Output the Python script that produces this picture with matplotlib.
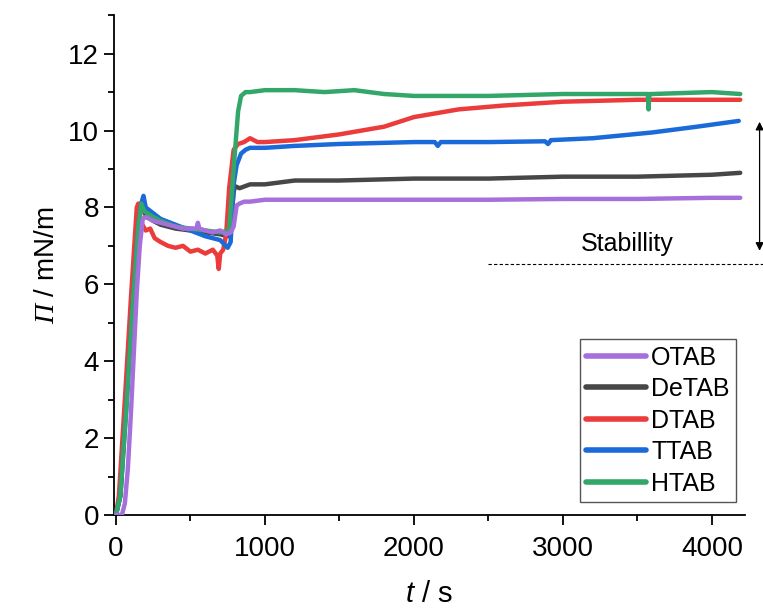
import numpy as np
import matplotlib
matplotlib.use('Agg')
import matplotlib.pyplot as plt
from matplotlib.ticker import MultipleLocator

plt.rcParams['font.family'] = 'Liberation Sans'
plt.rcParams['mathtext.fontset'] = 'custom'
plt.rcParams['mathtext.it'] = 'Liberation Sans:italic'
plt.rcParams['mathtext.sf'] = 'Liberation Serif:italic'

# surface pressure vs time
labels = ["OTAB", "DeTAB", "DTAB", "TTAB", "HTAB"]
colors = ["#a56fdc", "#474747", "#eb3b3b", "#1b6ad9", "#33a66a"]

t_otab = [0, 40, 60, 80, 100, 120, 140, 160, 180, 200, 250, 300, 350, 400, 450, 500, 540, 550, 560, 600,
          650, 700, 740, 770, 790, 810, 830, 860, 900, 1000, 1200, 1500, 2000, 2500, 3000, 3500, 4000, 4190]
y_otab = [0, 0, 0.3, 1.2, 2.6, 4.2, 5.8, 7.0, 7.7, 7.75, 7.65, 7.6, 7.55, 7.5, 7.45, 7.45, 7.45, 7.6, 7.45, 7.4,
          7.35, 7.4, 7.3, 7.35, 7.5, 8.05, 8.1, 8.15, 8.15, 8.2, 8.2, 8.2, 8.2, 8.2, 8.22, 8.22, 8.25, 8.25]

t_detab = [0, 30, 60, 100, 140, 165, 180, 200, 250, 300, 400, 500, 600, 700, 750, 770, 790, 800, 830,
           900, 1000, 1200, 1500, 2000, 2500, 3000, 3500, 4000, 4190]
y_detab = [0, 0.5, 2.5, 5.2, 7.5, 8.1, 7.95, 7.8, 7.65, 7.55, 7.45, 7.4, 7.35, 7.3, 7.25, 7.4, 8.4, 8.55, 8.5,
           8.6, 8.6, 8.7, 8.7, 8.75, 8.75, 8.8, 8.8, 8.85, 8.9]

t_dtab = [0, 20, 60, 100, 140, 150, 170, 200, 230, 260, 300, 350, 400, 450, 500, 550, 600, 650, 680, 690,
          700, 720, 740, 760, 790, 820, 860, 900, 950, 1000, 1200, 1500, 1800, 2000, 2300, 2600, 3000, 3500, 4000, 4190]
y_dtab = [0, 0.5, 3.0, 5.6, 8.0, 8.1, 7.6, 7.4, 7.45, 7.2, 7.1, 7.0, 6.95, 7.0, 6.85, 6.9, 6.8, 6.9, 6.75, 6.4,
          6.8, 6.9, 7.3, 8.5, 9.5, 9.65, 9.7, 9.8, 9.7, 9.7, 9.75, 9.9, 10.1, 10.35, 10.55, 10.65, 10.75, 10.8, 10.8, 10.8]

t_ttab = [0, 30, 70, 110, 150, 170, 185, 200, 250, 300, 400, 500, 600, 700, 750, 770, 790, 810, 840, 870,
          900, 1000, 1200, 1500, 2000, 2140, 2160, 2180, 2500, 2880, 2900, 2920, 3200, 3600, 3900, 4180]
y_ttab = [0, 0.5, 2.8, 5.3, 7.5, 8.1, 8.3, 8.0, 7.85, 7.7, 7.55, 7.4, 7.25, 7.15, 6.95, 7.1, 8.6, 9.1, 9.4, 9.5,
          9.55, 9.55, 9.6, 9.65, 9.7, 9.7, 9.6, 9.7, 9.7, 9.72, 9.65, 9.75, 9.8, 9.95, 10.1, 10.25]

t_htab = [0, 30, 70, 110, 150, 170, 190, 250, 300, 400, 500, 600, 700, 760, 780, 800, 820, 840, 870, 900,
          1000, 1200, 1400, 1600, 1800, 2000, 2500, 3000, 3500, 3570, 3575, 3580, 3600, 4000, 4190]
y_htab = [0, 0.5, 2.8, 5.3, 7.5, 8.1, 7.9, 7.75, 7.65, 7.5, 7.45, 7.4, 7.35, 7.4, 8.5, 9.5, 10.5, 10.9, 11.0, 11.0,
          11.05, 11.05, 11.0, 11.05, 10.95, 10.9, 10.9, 10.95, 10.95, 10.95, 10.55, 10.95, 10.95, 11.0, 10.95]

series = [(t_otab, y_otab), (t_detab, y_detab), (t_dtab, y_dtab), (t_ttab, y_ttab), (t_htab, y_htab)]
zorders = [6, 2, 3, 4, 5]

fig = plt.figure(figsize=(7.63, 6.08), dpi=100)
ax = fig.add_axes([0.149, 0.153, 0.827, 0.822])

handles = []
for (t, y), lab, c, z in zip(series, labels, colors, zorders):
    h, = ax.plot(t, y, color=c, lw=3.2, label=lab, zorder=z, solid_capstyle='round')
    handles.append(h)

ax.set_xlim(-15, 4220)
ax.set_ylim(0, 13)
ax.xaxis.set_major_locator(MultipleLocator(1000))
ax.xaxis.set_minor_locator(MultipleLocator(500))
ax.yaxis.set_major_locator(MultipleLocator(2))
ax.yaxis.set_minor_locator(MultipleLocator(1))
for s in ['top', 'right']:
    ax.spines[s].set_visible(False)
for s in ['left', 'bottom']:
    ax.spines[s].set_linewidth(1.3)
ax.tick_params(which='major', direction='out', length=7, width=1.3, labelsize=20)
ax.tick_params(which='minor', direction='out', length=4, width=1.3)
ax.tick_params(axis='x', which='major', pad=8)

ax.set_xlabel(r'$t$ / s', fontsize=21, labelpad=13)
ax.set_ylabel(r'$\mathsf{\Pi}$ / mN/m', fontsize=20, labelpad=6)

# stability marker
ax.plot([2500, 4350], [6.54, 6.54], ls='--', lw=0.8, color='black', clip_on=False, dashes=(3, 2))
ax.annotate('', xy=(4320, 10.3), xytext=(4320, 6.8),
            arrowprops=dict(arrowstyle='<|-|>', color='black', lw=0.9, mutation_scale=12),
            annotation_clip=False)
ax.text(3430, 7.05, 'Stabillity', fontsize=18, ha='center', va='center')

leg = ax.legend(handles=handles, loc='lower right', bbox_to_anchor=(0.986, 0.026), borderaxespad=0,
                fontsize=18, fancybox=False, edgecolor='#555555', handlelength=2.4,
                handletextpad=0.2, labelspacing=0.3, borderpad=0.25, framealpha=1)
leg.get_frame().set_linewidth(1.0)
for line in leg.get_lines():
    line.set_linewidth(4)

fig.savefig('out.png', dpi=100)
